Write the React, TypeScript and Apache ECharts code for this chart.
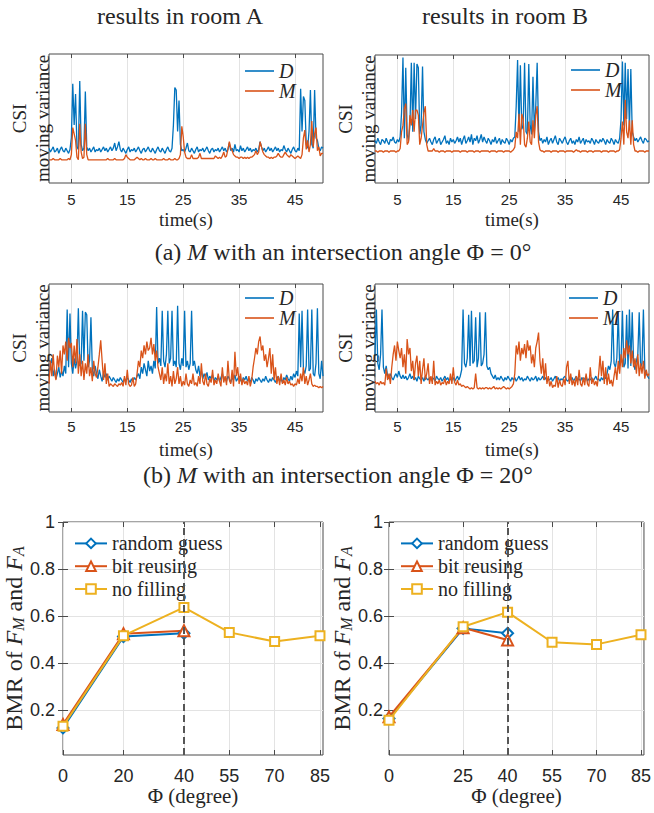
import React, { useEffect, useRef } from 'react';
import * as echarts from 'echarts';

// ---------- time axis of the CSI panels ----------
const T_START = 1;
const T_STEP = 0.25;
const timeTicks = [5, 15, 25, 35, 45];

// (a) Φ = 0°, room A  (values in % of panel height)
const roomA0_D = [
  27, 24, 26, 28, 24, 25, 27, 23, 26, 28, 25, 24, 27, 25, 23, 26, 35, 77, 45, 69,
  28, 26, 79, 30, 25, 27, 71, 28, 25, 27, 24, 26, 28, 24, 26, 25, 27, 24, 26, 28,
  25, 27, 24, 26, 28, 25, 27, 31, 25, 28, 32, 26, 24, 27, 25, 23, 26, 28, 24, 26,
  25, 27, 24, 26, 28, 25, 23, 26, 27, 24, 26, 28, 25, 24, 27, 25, 23, 26, 28, 25,
  24, 27, 25, 23, 26, 28, 25, 24, 27, 45, 74, 72, 40, 64, 30, 25, 26, 24, 27, 31,
  25, 24, 27, 25, 23, 26, 28, 24, 26, 25, 27, 24, 26, 28, 25, 23, 26, 27, 24, 26,
  25, 27, 24, 26, 28, 25, 27, 24, 26, 31, 25, 27, 24, 30, 25, 26, 24, 29, 25, 27,
  24, 26, 28, 25, 27, 24, 26, 25, 27, 24, 26, 32, 28, 25, 27, 24, 26, 28, 25, 27,
  24, 26, 28, 25, 27, 24, 26, 25, 29, 26, 24, 27, 25, 23, 26, 28, 25, 24, 27, 25,
  73, 40, 67, 64, 30, 27, 40, 72, 30, 27, 72, 35, 33, 27, 25, 28, 27,
];
const roomA0_M = [
  18, 18, 18, 19, 18, 18, 18, 18, 19, 18, 18, 18, 18, 18, 19, 18, 22, 43, 38, 33,
  20, 18, 46, 24, 19, 20, 46, 22, 18, 18, 18, 18, 18, 18, 18, 18, 18, 18, 18, 18,
  18, 18, 19, 18, 18, 18, 18, 19, 18, 18, 18, 18, 18, 18, 19, 22, 20, 19, 18, 18,
  18, 18, 19, 20, 19, 18, 19, 18, 18, 19, 18, 18, 18, 19, 18, 18, 19, 18, 18, 18,
  18, 18, 19, 18, 18, 18, 19, 18, 18, 18, 19, 18, 18, 19, 22, 44, 36, 24, 20, 19,
  19, 19, 22, 19, 19, 19, 19, 20, 23, 19, 19, 19, 19, 19, 19, 19, 19, 19, 19, 21,
  20, 19, 20, 19, 21, 24, 20, 21, 26, 32, 27, 25, 22, 21, 20, 20, 19, 20, 20, 19,
  20, 19, 20, 19, 20, 20, 21, 22, 25, 22, 24, 32, 28, 24, 22, 21, 20, 20, 19, 20,
  19, 20, 20, 21, 23, 21, 20, 20, 22, 24, 22, 21, 20, 22, 21, 20, 19, 20, 21, 20,
  19, 22, 35, 41, 26, 33, 24, 30, 48, 28, 38, 43, 25, 28, 21, 23, 23,
];

// (a) Φ = 0°, room B
const roomB0_D = [
  33, 31, 35, 32, 30, 34, 33, 31, 35, 32, 30, 34, 33, 36, 32, 31, 34, 32, 36, 55,
  98, 35, 90, 38, 33, 45, 94, 40, 94, 50, 93, 90, 38, 45, 91, 40, 34, 31, 33, 35,
  32, 30, 34, 36, 31, 33, 35, 30, 32, 34, 37, 31, 33, 30, 35, 32, 34, 31, 33, 36,
  32, 35, 30, 34, 37, 31, 33, 36, 32, 38, 30, 35, 33, 37, 31, 34, 38, 32, 36, 33,
  31, 35, 33, 30, 34, 32, 36, 31, 33, 35, 30, 34, 32, 31, 35, 33, 30, 34, 32, 35,
  36, 60, 96, 40, 92, 42, 45, 94, 40, 38, 93, 45, 38, 83, 40, 60, 94, 40, 33, 35,
  31, 34, 32, 36, 30, 33, 35, 31, 34, 37, 32, 30, 35, 33, 31, 34, 36, 32, 30, 33,
  35, 31, 33, 30, 34, 32, 36, 31, 33, 35, 30, 34, 32, 33, 31, 35, 33, 30, 34, 32,
  31, 34, 32, 35, 33, 30, 34, 32, 31, 35, 33, 30, 34, 32, 31, 35, 50, 95, 45, 94,
  50, 89, 42, 89, 40, 36, 33, 35, 32, 34, 36, 33, 31, 35, 34, 32, 33,
];
const roomB0_M = [
  25, 25, 24, 25, 25, 25, 24, 25, 25, 25, 24, 25, 25, 25, 25, 24, 25, 25, 27, 40,
  45, 58, 62, 30, 32, 53, 45, 57, 40, 57, 57, 53, 30, 35, 45, 55, 60, 30, 25, 25,
  25, 25, 27, 25, 25, 25, 24, 25, 25, 25, 24, 25, 25, 25, 25, 24, 25, 25, 25, 25,
  25, 24, 25, 25, 25, 25, 24, 25, 25, 25, 25, 24, 25, 25, 25, 24, 25, 25, 25, 25,
  25, 25, 24, 25, 25, 25, 25, 24, 25, 25, 25, 25, 24, 25, 25, 25, 25, 24, 25, 26,
  28, 40, 35, 54, 30, 54, 50, 30, 28, 35, 48, 32, 30, 49, 35, 53, 60, 32, 26, 25,
  25, 24, 25, 25, 25, 25, 24, 25, 25, 25, 25, 24, 25, 25, 25, 25, 24, 25, 25, 25,
  25, 25, 24, 25, 26, 25, 25, 24, 25, 25, 25, 25, 24, 25, 25, 25, 24, 25, 25, 25,
  25, 25, 24, 25, 25, 25, 25, 24, 25, 25, 25, 25, 24, 25, 25, 26, 35, 48, 30, 65,
  40, 35, 49, 30, 49, 30, 25, 25, 24, 25, 25, 25, 25, 24, 25, 25, 25,
];

// (b) Φ = 20°, room A
const roomA20_D = [
  30, 38, 42, 28, 33, 26, 30, 35, 27, 32, 28, 36, 30, 80, 35, 77, 38, 30, 42, 34,
  40, 81, 36, 38, 79, 40, 78, 76, 35, 40, 74, 33, 28, 36, 30, 26, 33, 28, 24, 31,
  27, 30, 25, 28, 26, 24, 27, 25, 23, 26, 24, 27, 25, 23, 26, 24, 27, 25, 23, 26,
  24, 27, 25, 28, 30, 26, 35, 30, 38, 33, 28, 40, 32, 36, 30, 40, 34, 82, 38, 42,
  36, 79, 40, 35, 45, 79, 38, 42, 79, 36, 40, 35, 83, 38, 33, 42, 36, 79, 35, 40,
  33, 38, 79, 36, 40, 33, 30, 36, 28, 32, 26, 30, 27, 31, 25, 28, 26, 29, 24, 27,
  25, 28, 24, 27, 30, 25, 27, 24, 28, 26, 23, 27, 25, 29, 24, 26, 28, 25, 23, 27,
  25, 28, 24, 26, 23, 27, 25, 22, 26, 24, 27, 25, 23, 26, 24, 28, 25, 23, 26, 24,
  27, 25, 23, 26, 28, 24, 26, 23, 27, 25, 29, 26, 24, 28, 25, 30, 27, 32, 28, 77,
  35, 79, 33, 30, 36, 80, 32, 34, 80, 30, 28, 38, 81, 30, 26, 40, 28,
];
const roomA20_M = [
  22, 40, 28, 45, 30, 25, 44, 35, 48, 30, 52, 45, 55, 40, 58, 50, 54, 35, 52, 38,
  57, 30, 45, 28, 40, 25, 38, 30, 45, 28, 35, 24, 40, 30, 27, 35, 45, 56, 40, 25,
  38, 22, 30, 20, 22, 21, 20, 22, 21, 20, 22, 21, 23, 20, 28, 21, 33, 22, 20, 21,
  27, 20, 22, 30, 40, 35, 48, 42, 52, 45, 55, 48, 50, 58, 45, 53, 40, 48, 35, 30,
  25, 35, 22, 30, 24, 38, 22, 28, 20, 32, 22, 26, 35, 22, 28, 20, 24, 21, 30, 22,
  20, 25, 22, 30, 21, 23, 20, 28, 22, 38, 24, 21, 30, 22, 20, 26, 23, 33, 21, 25,
  22, 30, 24, 20, 35, 23, 28, 21, 40, 25, 22, 33, 20, 47, 28, 35, 22, 30, 21, 26,
  22, 24, 21, 28, 20, 25, 35, 42, 50, 45, 55, 59, 48, 52, 40, 45, 35, 42, 50, 30,
  45, 25, 35, 22, 28, 21, 30, 22, 25, 21, 27, 22, 24, 21, 22, 20, 22, 21, 26, 22,
  30, 24, 35, 22, 28, 21, 25, 30, 22, 20, 21, 20, 20, 19, 20, 19, 20,
];

// (b) Φ = 20°, room B
const roomB20_D = [
  45, 80, 38, 33, 45, 80, 35, 30, 36, 28, 26, 30, 27, 25, 28, 30, 27, 32, 28, 26,
  29, 26, 28, 25, 27, 30, 26, 28, 25, 27, 24, 28, 26, 25, 27, 24, 28, 26, 25, 27,
  25, 27, 26, 24, 28, 26, 25, 27, 24, 26, 28, 25, 27, 24, 26, 25, 27, 24, 26, 28,
  25, 28, 33, 80, 38, 35, 42, 76, 36, 79, 38, 40, 74, 35, 42, 78, 36, 38, 45, 78,
  36, 33, 35, 30, 28, 26, 29, 25, 27, 25, 28, 26, 24, 27, 25, 28, 26, 24, 27, 25,
  27, 24, 26, 28, 25, 27, 24, 26, 25, 28, 26, 24, 27, 25, 26, 28, 24, 27, 25, 26,
  28, 25, 27, 24, 26, 25, 27, 24, 26, 28, 25, 27, 24, 26, 25, 27, 28, 25, 24, 26,
  25, 27, 24, 26, 28, 25, 26, 24, 27, 25, 26, 28, 24, 26, 25, 27, 24, 26, 28, 25,
  26, 24, 27, 25, 28, 26, 30, 36, 33, 40, 80, 38, 35, 42, 78, 36, 40, 79, 35, 38,
  76, 34, 80, 36, 78, 38, 33, 40, 45, 78, 35, 38, 80, 33, 30, 28, 26,
];
const roomB20_M = [
  24, 22, 23, 21, 24, 22, 23, 21, 34, 25, 30, 22, 35, 45, 52, 40, 55, 48, 42, 50,
  35, 45, 30, 57, 45, 50, 32, 40, 25, 38, 44, 28, 40, 22, 33, 42, 25, 30, 38, 22,
  28, 22, 40, 21, 24, 22, 25, 21, 23, 22, 26, 21, 24, 22, 30, 22, 35, 23, 21, 25,
  21, 22, 20, 21, 20, 19, 20, 19, 18, 19, 18, 19, 30, 19, 18, 19, 18, 19, 18, 19,
  19, 18, 19, 18, 19, 20, 18, 19, 18, 19, 18, 19, 20, 19, 18, 19, 18, 19, 20, 22,
  30, 52, 45, 55, 40, 50, 45, 53, 42, 56, 48, 52, 38, 45, 35, 50, 55, 62, 40, 30,
  42, 25, 38, 22, 28, 20, 24, 19, 21, 20, 28, 19, 25, 21, 20, 26, 21, 35, 40, 22,
  30, 21, 25, 20, 28, 21, 33, 22, 20, 27, 21, 30, 22, 20, 35, 22, 26, 21, 24, 20,
  30, 44, 28, 40, 22, 35, 21, 30, 22, 25, 20, 28, 35, 25, 40, 30, 45, 35, 50, 42,
  56, 45, 52, 38, 48, 35, 42, 30, 45, 28, 38, 30, 40, 26, 33, 28, 30,
];

// ---------- BMR panels ----------
const phiTicksA = [0, 20, 40, 55, 70, 85];
const phiTicksB = [0, 25, 40, 55, 70, 85];
const phiShortA = [0, 20, 40];
const phiShortB = [0, 25, 40];
const randomGuessA = [0.125, 0.513, 0.527];
const bitReusingA = [0.14, 0.525, 0.538];
const noFillingA = [0.132, 0.517, 0.637, 0.531, 0.492, 0.517];
const randomGuessB = [0.165, 0.548, 0.527];
const bitReusingB = [0.172, 0.551, 0.499];
const noFillingB = [0.158, 0.555, 0.617, 0.489, 0.48, 0.521];
const bmrTicks = [0.2, 0.4, 0.6, 0.8, 1];

// ---------- styling ----------
const SERIF = 'Liberation Serif';
const SANS = 'Liberation Sans';
const TEXT = '#262626';
const AXIS = '#4a4a4a';
const GRIDC = '#e3e3e3';
const BLUE = '#0072BD';
const ORANGE = '#D95319';
const YELLOW = '#EDB120';

const toTime = (vals: number[]) => vals.map((v, i) => [T_START + i * T_STEP, v]);
const zip = (xs: number[], ys: number[]) => ys.map((y, i) => [xs[i], y]);

export default function App() {
  const ref = useRef<HTMLDivElement>(null);

  useEffect(() => {
    if (!ref.current) return;
    const chart = echarts.init(ref.current, undefined, { renderer: 'svg' });

    const tsGrids = [
      { left: 49, top: 54, width: 274, height: 129 },
      { left: 375, top: 55, width: 274, height: 128 },
      { left: 49, top: 284, width: 274, height: 128 },
      { left: 375, top: 284, width: 274, height: 128 },
    ];
    const bmrGrids = [
      { left: 63, top: 522, width: 260, height: 233 },
      { left: 389, top: 522, width: 259, height: 233 },
    ];
    const grid = [...tsGrids, ...bmrGrids].map((g) => ({
      ...g,
      show: true,
      borderColor: AXIS,
      borderWidth: 1,
      backgroundColor: 'transparent',
    }));

    const tsX = (g: number, margin: number, nameGap: number) => ({
      type: 'value',
      gridIndex: g,
      min: 1,
      max: 50,
      axisLine: { show: false },
      axisTick: { show: true, inside: true, length: 4, customValues: timeTicks, lineStyle: { color: AXIS } },
      axisLabel: { customValues: timeTicks, fontFamily: SANS, fontSize: 15, color: TEXT, margin },
      splitLine: { show: true, lineStyle: { color: GRIDC, width: 1 } },
      name: 'time(s)',
      nameLocation: 'middle',
      nameGap,
      nameTextStyle: { fontFamily: SERIF, fontWeight: 'normal', fontSize: 19, color: TEXT },
    });
    const tsXTop = (g: number) => ({
      type: 'value',
      gridIndex: g,
      position: 'top',
      min: 1,
      max: 50,
      axisLine: { show: false },
      axisTick: { show: true, inside: true, length: 4, customValues: timeTicks, lineStyle: { color: AXIS } },
      axisLabel: { show: false },
      splitLine: { show: false },
    });
    const tsY = (g: number) => ({
      type: 'value',
      gridIndex: g,
      min: 0,
      max: 100,
      axisLine: { show: false },
      axisTick: { show: false },
      axisLabel: { show: false },
      splitLine: { show: false },
      name: 'CSI\nmoving variance',
      nameLocation: 'middle',
      nameRotate: 90,
      nameGap: -5,
      nameTextStyle: { fontFamily: SERIF, fontWeight: 'normal', fontSize: 19, color: TEXT, lineHeight: 23 },
    });

    const bmrX = (g: number, ticks: number[]) => ({
      type: 'value',
      gridIndex: g,
      min: 0,
      max: 86,
      axisLine: { show: false },
      axisTick: { show: true, inside: true, length: 5, customValues: ticks, lineStyle: { color: AXIS } },
      axisLabel: { customValues: ticks, fontFamily: SANS, fontSize: 18, color: TEXT, margin: 12 },
      splitLine: { show: true, lineStyle: { color: GRIDC, width: 1 } },
      name: 'Φ (degree)',
      nameLocation: 'middle',
      nameGap: 30,
      nameTextStyle: { fontFamily: SERIF, fontWeight: 'normal', fontSize: 21, color: TEXT },
    });
    const bmrXTop = (g: number, ticks: number[]) => ({
      type: 'value',
      gridIndex: g,
      position: 'top',
      min: 0,
      max: 86,
      axisLine: { show: false },
      axisTick: { show: true, inside: true, length: 5, customValues: ticks, lineStyle: { color: AXIS } },
      axisLabel: { show: false },
      splitLine: { show: false },
    });
    const bmrY = (g: number, margin: number) => ({
      type: 'value',
      gridIndex: g,
      min: 0.01,
      max: 1,
      axisLine: { show: false },
      axisTick: { show: true, inside: true, length: 5, customValues: bmrTicks, lineStyle: { color: AXIS } },
      axisLabel: {
        customValues: bmrTicks,
        fontFamily: SANS,
        fontSize: 18,
        color: TEXT,
        margin,
        formatter: (v: number) => (v === 1 ? '1' : v.toFixed(1)),
      },
      splitLine: { show: true, lineStyle: { color: GRIDC, width: 1 } },
      name: '{r|BMR of }{i|F}{sub|M}{r| and }{i|F}{sub|A}',
      nameLocation: 'middle',
      nameRotate: 90,
      nameGap: 34,
      nameTextStyle: {
        fontFamily: SERIF,
        fontSize: 24,
        color: TEXT,
        rich: {
          r: { fontFamily: SERIF, fontSize: 24, color: TEXT },
          i: { fontFamily: SERIF, fontSize: 24, fontStyle: 'italic', color: TEXT },
          sub: { fontFamily: SERIF, fontSize: 16, fontStyle: 'italic', color: TEXT, verticalAlign: 'bottom', padding: [9, 0, 0, 0] },
        },
      },
    });
    const bmrYRight = (g: number) => ({
      type: 'value',
      gridIndex: g,
      position: 'right',
      min: 0.01,
      max: 1,
      axisLine: { show: false },
      axisTick: { show: true, inside: true, length: 5, customValues: bmrTicks, lineStyle: { color: AXIS } },
      axisLabel: { show: false },
      splitLine: { show: false },
    });

    const xAxis = [
      tsX(0, 9, 27),
      tsX(1, 9, 27),
      tsX(2, 7, 28),
      tsX(3, 7, 28),
      bmrX(4, phiTicksA),
      bmrX(5, phiTicksB),
      tsXTop(0),
      tsXTop(1),
      tsXTop(2),
      tsXTop(3),
      bmrXTop(4, phiTicksA),
      bmrXTop(5, phiTicksB),
    ];
    const yAxis = [tsY(0), tsY(1), tsY(2), tsY(3), bmrY(4, 8), bmrY(5, 6), bmrYRight(4), bmrYRight(5)];

    const tsPairs = [
      [roomA0_D, roomA0_M],
      [roomB0_D, roomB0_M],
      [roomA20_D, roomA20_M],
      [roomB20_D, roomB20_M],
    ];
    const series: any[] = [];
    tsPairs.forEach(([d, m], g) => {
      series.push({
        type: 'line',
        name: 'D',
        xAxisIndex: g,
        yAxisIndex: g,
        data: toTime(d),
        symbol: 'none',
        showSymbol: false,
        lineStyle: { color: BLUE, width: 1.3 },
        itemStyle: { color: BLUE },
      });
      series.push({
        type: 'line',
        name: 'M',
        xAxisIndex: g,
        yAxisIndex: g,
        data: toTime(m),
        symbol: 'none',
        showSymbol: false,
        lineStyle: { color: ORANGE, width: 1.3 },
        itemStyle: { color: ORANGE },
      });
    });

    const bmrSets = [
      { g: 4, phiShort: phiShortA, phiAll: phiTicksA, rg: randomGuessA, br: bitReusingA, nf: noFillingA },
      { g: 5, phiShort: phiShortB, phiAll: phiTicksB, rg: randomGuessB, br: bitReusingB, nf: noFillingB },
    ];
    bmrSets.forEach(({ g, phiShort, phiAll, rg, br, nf }) => {
      series.push({
        type: 'line',
        name: 'random guess',
        xAxisIndex: g,
        yAxisIndex: g,
        data: zip(phiShort, rg),
        symbol: 'emptyDiamond',
        symbolSize: 11,
        lineStyle: { color: BLUE, width: 2 },
        itemStyle: { color: BLUE, borderWidth: 1.6 },
      });
      series.push({
        type: 'line',
        name: 'bit reusing',
        xAxisIndex: g,
        yAxisIndex: g,
        data: zip(phiShort, br),
        symbol: 'emptyTriangle',
        symbolSize: 11,
        lineStyle: { color: ORANGE, width: 2 },
        itemStyle: { color: ORANGE, borderWidth: 1.6 },
      });
      series.push({
        type: 'line',
        name: 'no filling',
        xAxisIndex: g,
        yAxisIndex: g,
        data: zip(phiAll, nf),
        symbol: 'emptyRect',
        symbolSize: 9,
        lineStyle: { color: YELLOW, width: 2 },
        itemStyle: { color: YELLOW, borderWidth: 1.6 },
        markLine: {
          silent: true,
          symbol: ['none', 'none'],
          label: { show: false },
          lineStyle: { color: '#555555', width: 2, type: [7, 4] },
          data: [{ xAxis: 40 }],
        },
      });
    });

    const dmLegend = (left: number, top: number) => ({
      data: ['D', 'M'],
      orient: 'vertical',
      left,
      top,
      padding: 0,
      icon: 'rect',
      itemWidth: 29,
      itemHeight: 1.6,
      itemGap: 0,
      selectedMode: false,
      textStyle: { fontFamily: SERIF, fontStyle: 'italic', fontSize: 20, lineHeight: 20, color: TEXT },
    });
    const bmrLegend = (left: number) => ({
      data: ['random guess', 'bit reusing', 'no filling'],
      orient: 'vertical',
      left,
      top: 532,
      padding: 0,
      itemWidth: 32,
      itemHeight: 12,
      itemGap: 0,
      selectedMode: false,
      textStyle: { fontFamily: SERIF, fontStyle: 'normal', fontSize: 20, lineHeight: 22.8, color: TEXT },
    });

    const txt = (x: number, y: number, text: string, size: number, rich?: any) => ({
      type: 'text',
      x,
      y,
      style: {
        text,
        fontFamily: SERIF,
        fontSize: size,
        fill: TEXT,
        align: 'center',
        verticalAlign: 'middle',
        textAlign: 'center',
        textVerticalAlign: 'middle',
        rich,
      },
    });
    const italicRich = { i: { fontFamily: SERIF, fontSize: 24, fontStyle: 'italic', fill: TEXT, color: TEXT } };

    chart.setOption({
      animation: false,
      backgroundColor: '#ffffff',
      grid,
      xAxis,
      yAxis,
      series,
      legend: [dmLegend(245, 61), dmLegend(571, 60), dmLegend(245, 288), dmLegend(569, 288), bmrLegend(74), bmrLegend(400)],
      graphic: [
        txt(180, 16, 'results in room A', 24),
        txt(505, 16, 'results in room B', 24),
        txt(343, 252, '(a) {i|M} with an intersection angle Φ = 0°', 24, italicRich),
        txt(338, 475, '(b) {i|M} with an intersection angle Φ = 20°', 24, italicRich),
      ],
    });

    return () => chart.dispose();
  }, []);

  return <div ref={ref} style={{ position: 'absolute', left: 0, top: 0, width: 654, height: 813 }} />;
}
